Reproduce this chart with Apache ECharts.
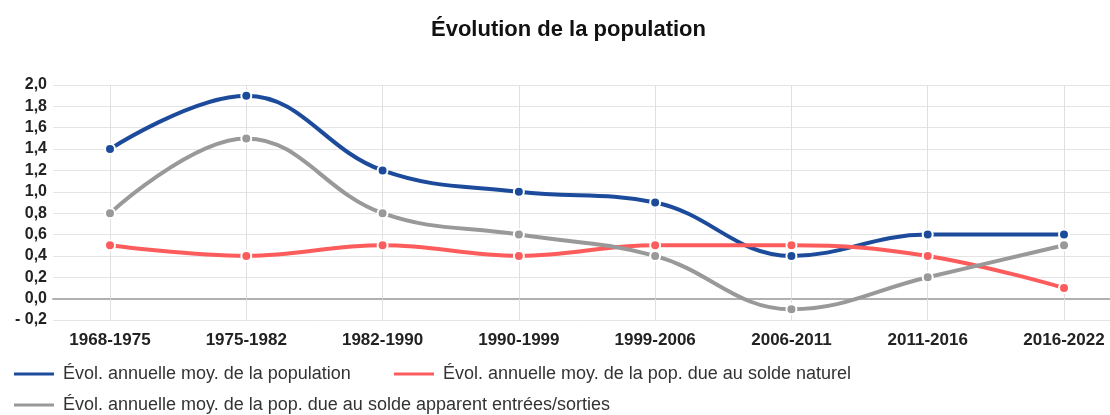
<!DOCTYPE html>
<html>
<head>
<meta charset="utf-8">
<title>Évolution de la population</title>
<script src="https://cdn.jsdelivr.net/npm/echarts@6/dist/echarts.min.js"></script>
<style>
  html, body { margin: 0; padding: 0; background: #fff; }
  #main { width: 1110px; height: 415px; }
</style>
</head>
<body>
<div id="main"></div>
<script>
// données
var periodes = ['1968-1975', '1975-1982', '1982-1990', '1990-1999', '1999-2006', '2006-2011', '2011-2016', '2016-2022']
var evolPopulation = [1.4, 1.9, 1.2, 1.0, 0.9, 0.4, 0.6, 0.6]
var evolSoldeNaturel = [0.5, 0.4, 0.5, 0.4, 0.5, 0.5, 0.4, 0.1]
var evolSoldeMigratoire = [0.8, 1.5, 0.8, 0.6, 0.4, -0.1, 0.2, 0.5]
var nomsSeries = [
    'Évol. annuelle moy. de la population',
    'Évol. annuelle moy. de la pop. due au solde naturel',
    'Évol. annuelle moy. de la pop. due au solde apparent entrées/sorties'
]
var couleurs = ['#1c4b9b', '#fd5c5c', '#999999']

var police = '"Liberation Sans", Arial, sans-serif'

var chart = echarts.init(document.getElementById('main'))

var serie = function(nom, data, couleur) {
    return {
        name: nom,
        type: 'line',
        xAxisIndex: 1,
        yAxisIndex: 1,
        data: data,
        smooth: 0.4,
        symbol: 'circle',
        symbolSize: 10,
        lineStyle: { width: 4, color: couleur },
        itemStyle: { color: couleur, borderColor: '#fff', borderWidth: 2 },
        emphasis: { disabled: true }
    }
}

// une légende par entrée, pour les placer comme sur l'original
var legende = function(nom, left, top) {
    return {
        data: [nom],
        left: left,
        top: top,
        padding: 0,
        icon: 'rect',
        itemWidth: 42,
        itemHeight: 5,
        itemGap: 8,
        selectedMode: false,
        textStyle: { fontSize: 18, color: '#333', fontFamily: police, padding: [0, 0, 0, 3] }
    }
}

var option = {
    animation: false,
    textStyle: { fontFamily: police },
    title: {
        text: 'Évolution de la population',
        left: 426,
        top: 14,
        textStyle: { fontSize: 22, fontWeight: 'bold', color: '#111', fontFamily: police }
    },
    legend: [
        legende(nomsSeries[0], 12, 365),
        legende(nomsSeries[1], 392, 365),
        legende(nomsSeries[2], 12, 396)
    ],
    grid: [
        { left: 53, right: 0, top: 85, bottom: 95 },
        { left: 110, right: 46, top: 85, bottom: 95 }
    ],
    xAxis: [
        {
            type: 'value', gridIndex: 0, min: 0, max: 1,
            axisLine: { show: true, onZero: true, lineStyle: { color: '#b0b0b0', width: 2 } },
            axisTick: { show: false }, axisLabel: { show: false }, splitLine: { show: false }
        },
        {
            type: 'category', gridIndex: 1, data: periodes, boundaryGap: false,
            axisLine: { show: false },
            axisTick: { show: true, length: 6, lineStyle: { color: '#e0e0e0' } },
            axisLabel: { margin: 12, fontSize: 17, fontWeight: 'bold', color: '#222', fontFamily: police },
            splitLine: { show: true, lineStyle: { color: '#e0e0e0', width: 1 } }
        }
    ],
    yAxis: [
        {
            type: 'value', gridIndex: 0, min: -0.2, max: 2.0, interval: 0.2,
            axisLine: { show: false }, axisTick: { show: false },
            axisLabel: {
                margin: 6, fontSize: 16, fontWeight: 'bold', color: '#222', fontFamily: police,
                formatter: function(v) {
                    var t = Math.abs(v).toFixed(1).replace('.', ',')
                    return v < -1e-9 ? '- ' + t : t
                }
            },
            splitLine: { show: true, lineStyle: { color: '#e4e4e4', width: 1 } }
        },
        {
            type: 'value', gridIndex: 1, min: -0.2, max: 2.0, interval: 0.2,
            axisLine: { show: false }, axisTick: { show: false },
            axisLabel: { show: false }, splitLine: { show: false }
        }
    ],
    series: [
        serie(nomsSeries[0], evolPopulation, couleurs[0]),
        serie(nomsSeries[1], evolSoldeNaturel, couleurs[1]),
        serie(nomsSeries[2], evolSoldeMigratoire, couleurs[2])
    ]
}

chart.setOption(option)
</script>
</body>
</html>
